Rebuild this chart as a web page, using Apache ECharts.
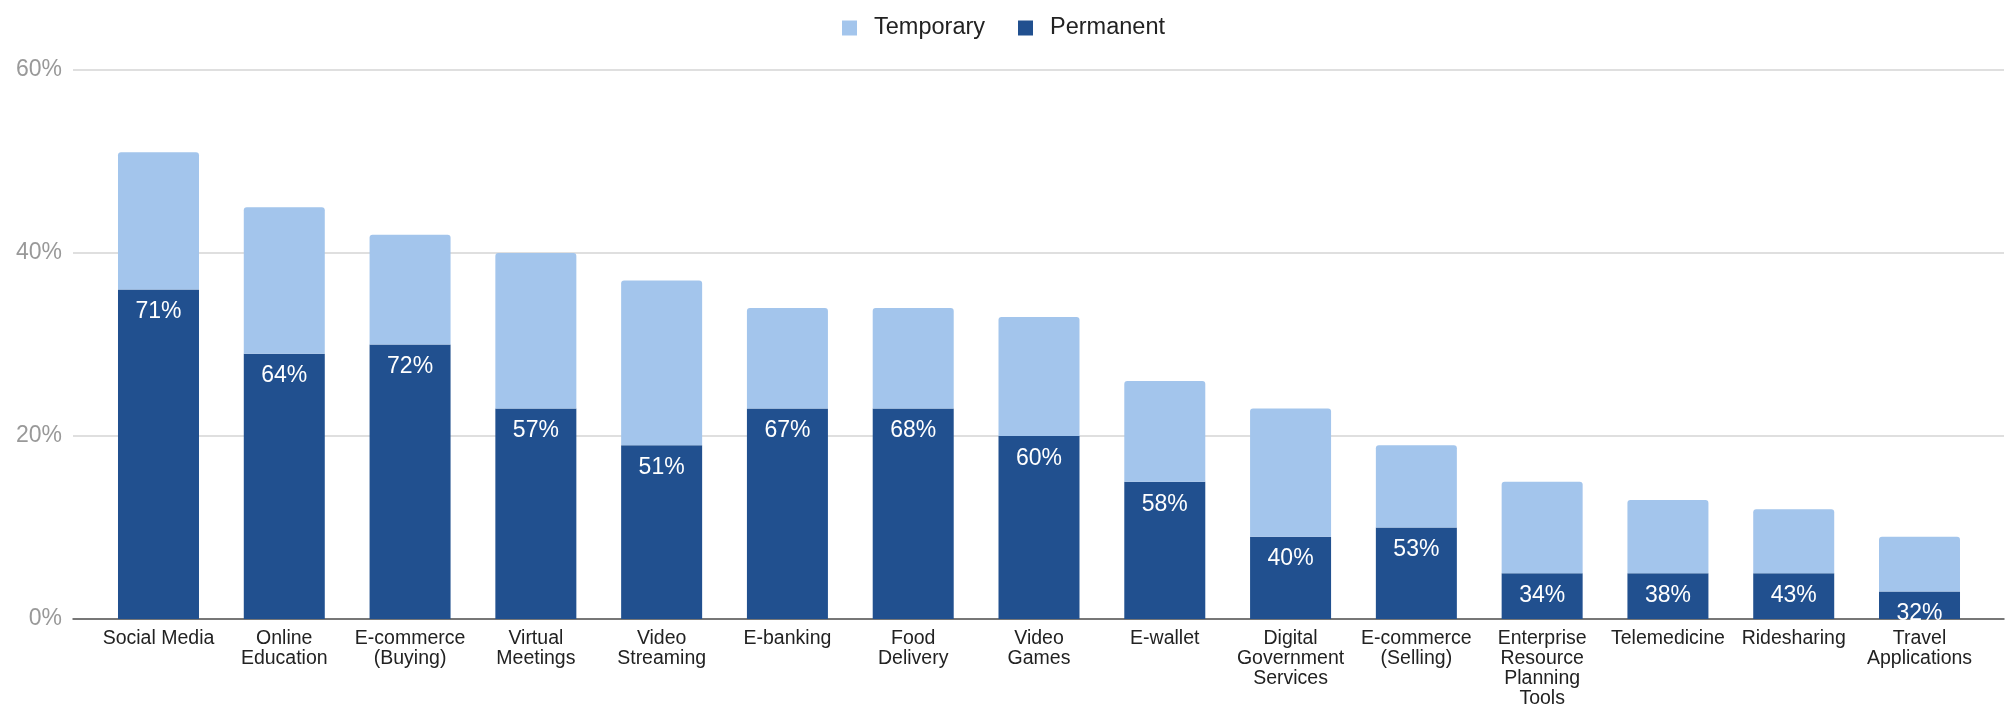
<!DOCTYPE html>
<html>
<head>
<meta charset="utf-8">
<script src="https://cdn.jsdelivr.net/npm/echarts@6/dist/echarts.min.js"></script>
<style>html,body{margin:0;padding:0;background:#fff;}#c{width:2007px;height:704px;}</style>
</head>
<body>
<div id="c"></div>
<script>
const categories = ["Social Media","Online Education","E-commerce (Buying)","Virtual Meetings","Video Streaming","E-banking","Food Delivery","Video Games","E-wallet","Digital Government Services","E-commerce (Selling)","Enterprise Resource Planning Tools","Telemedicine","Ridesharing","Travel Applications"];
const tickLabels = ["Social Media","Online\nEducation","E-commerce\n(Buying)","Virtual\nMeetings","Video\nStreaming","E-banking","Food\nDelivery","Video\nGames","E-wallet","Digital\nGovernment\nServices","E-commerce\n(Selling)","Enterprise\nResource\nPlanning\nTools","Telemedicine","Ridesharing","Travel\nApplications"];
const permanent = [36,29,30,23,19,23,23,20,15,9,10,5,5,5,3];
const temporary = [15,16,12,17,18,11,11,13,11,14,9,10,8,7,6];
const permanentShare = ["71%","64%","72%","57%","51%","67%","68%","60%","58%","40%","53%","34%","38%","43%","32%"];
const yTicks = [0,20,40,60];

const FONT = '"Liberation Sans", Arial, sans-serif';
const yMin = yTicks[0], yMax = yTicks[yTicks.length-1], yStep = yTicks[1]-yTicks[0];

const chart = echarts.init(document.getElementById('c'));
chart.setOption({
  animation:false,
  textStyle:{fontFamily:FONT},
  legend:{
    top:11, left:'center',
    data:['Temporary','Permanent'],
    itemWidth:15, itemHeight:15, itemGap:33,
    textStyle:{fontSize:23.5, color:'#222', fontFamily:FONT, padding:[0,0,0,12]},
    icon:'rect'
  },
  grid:[
    {left:95.6, right:24.6, top:70, bottom:85, containLabel:false, outerBoundsMode:'none'},
    {left:73, right:3, top:70, bottom:85, containLabel:false, outerBoundsMode:'none'}
  ],
  xAxis:[
    {
      gridIndex:0, type:'category', data:categories,
      axisTick:{show:false},
      axisLine:{show:false},
      axisLabel:{
        interval:0, fontSize:19.5, lineHeight:20, color:'#222', margin:10, fontFamily:FONT,
        formatter:(v,i)=>tickLabels[i]
      }
    },
    {
      gridIndex:1, type:'value', min:0, max:1,
      axisTick:{show:false}, axisLabel:{show:false}, splitLine:{show:false},
      axisLine:{show:true, lineStyle:{color:'#555', width:1.5}}
    }
  ],
  yAxis:[
    {
      gridIndex:0, type:'value', min:yMin, max:yMax, interval:yStep,
      axisLabel:{show:false}, splitLine:{show:false},
      axisLine:{show:false}, axisTick:{show:false}
    },
    {
      gridIndex:1, type:'value', min:yMin, max:yMax, interval:yStep,
      axisLabel:{formatter:'{value}%', fontSize:23, color:'#999', margin:11, fontFamily:FONT},
      splitLine:{lineStyle:{color:'#d4d4d4', width:1.5}},
      axisLine:{show:false}, axisTick:{show:false}
    }
  ],
  series:[
    {
      name:'Permanent', type:'bar', stack:'t', data:permanent, barWidth:81,
      xAxisIndex:0, yAxisIndex:0, z:3,
      itemStyle:{color:'#21508f'},
      label:{show:true, position:'insideTop', distance:11, color:'#fff', fontSize:23, fontFamily:FONT,
        formatter:p=>permanentShare[p.dataIndex]}
    },
    {
      name:'Temporary', type:'bar', stack:'t', data:temporary, barWidth:81,
      xAxisIndex:0, yAxisIndex:0, z:3,
      itemStyle:{color:'#a3c5ec', borderRadius:[3,3,0,0]}
    }
  ]
});
</script>
</body>
</html>
